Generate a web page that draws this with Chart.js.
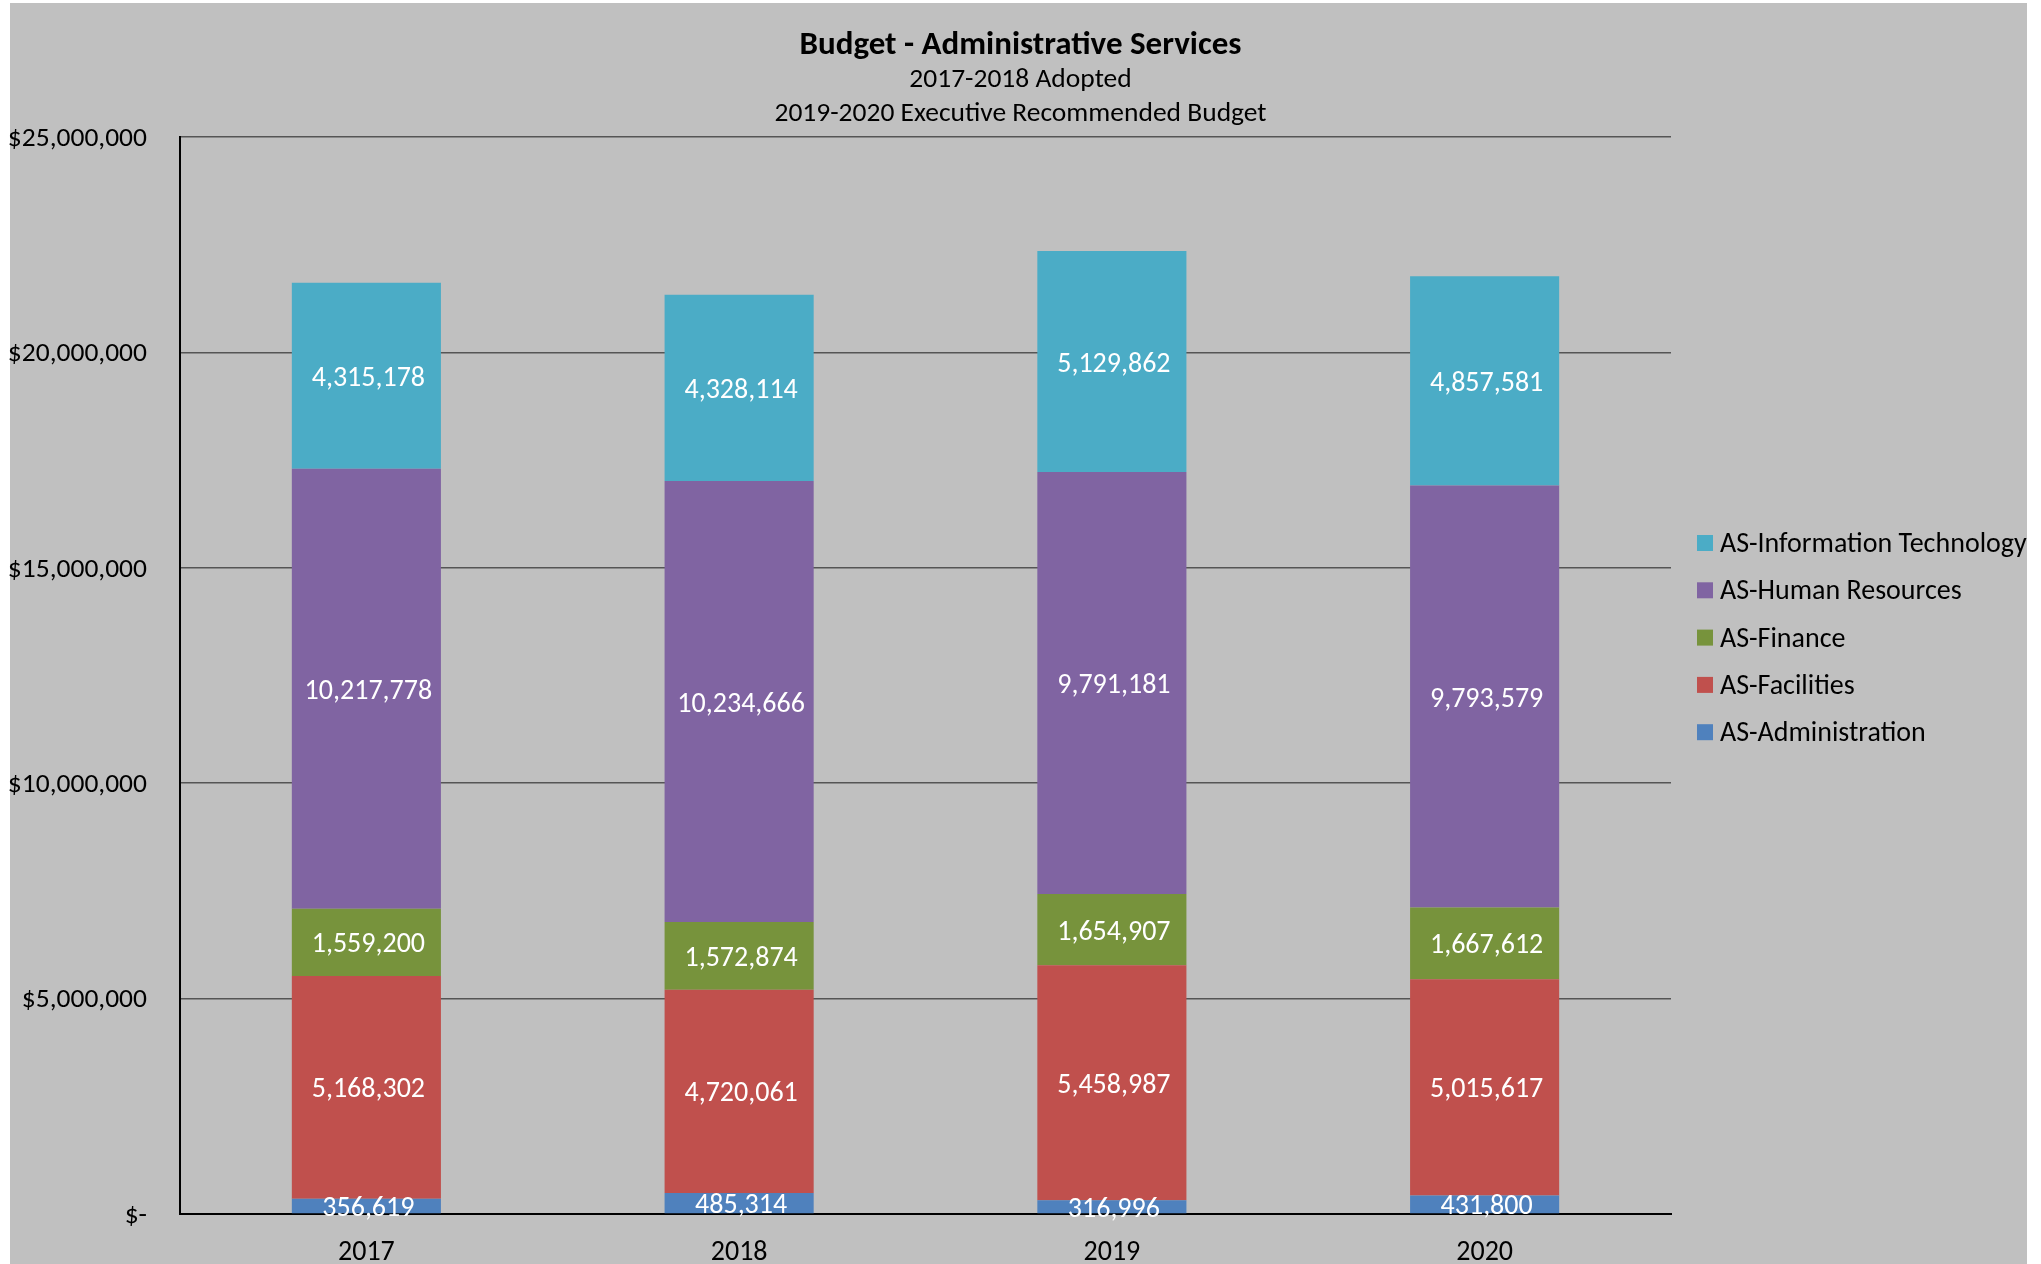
<!DOCTYPE html>
<html>
<head>
<meta charset="utf-8">
<script src="https://cdn.jsdelivr.net/npm/chart.js@4/dist/chart.umd.min.js"></script>
<style>
  html, body { margin: 0; padding: 0; background: #ffffff; }
  canvas { display: block; }
</style>
</head>
<body>
<canvas id="c" width="2041" height="1264"></canvas>
<script>
const categories = ['2017', '2018', '2019', '2020'];
const administration = [356619, 485314, 316996, 431800];
const facilities = [5168302, 4720061, 5458987, 5015617];
const finance = [1559200, 1572874, 1654907, 1667612];
const humanResources = [10217778, 10234666, 9791181, 9793579];
const informationTechnology = [4315178, 4328114, 5129862, 4857581];
const yTickLabels = ['$-', '$5,000,000', '$10,000,000', '$15,000,000', '$20,000,000', '$25,000,000'];
const titleText = 'Budget - Administrative Services';
const subtitleLines = ['2017-2018 Adopted', '2019-2020 Executive Recommended Budget'];

const FONT = 'Carlito, Lato, sans-serif';

const bgPlugin = {
  id: 'bg',
  beforeDraw(chart) {
    const ctx = chart.ctx;
    ctx.save();
    ctx.fillStyle = '#ffffff';
    ctx.fillRect(0, 0, chart.width, chart.height);
    ctx.fillStyle = '#c0c0c0';
    ctx.fillRect(10, 3, 2017, chart.height - 3);
    ctx.restore();
  }
};

const titlePlugin = {
  id: 'titles',
  afterDraw(chart) {
    const ctx = chart.ctx;
    ctx.save();
    ctx.fillStyle = '#000000';
    ctx.textAlign = 'center';
    ctx.textBaseline = 'middle';
    ctx.font = 'bold 33px ' + FONT;
    ctx.fillText(titleText, 1020.5, 46);
    ctx.font = '27.5px ' + FONT;
    ctx.fillText(subtitleLines[0], 1020.5, 80);
    ctx.fillText(subtitleLines[1], 1020.5, 114);
    ctx.restore();
  }
};

const labelPlugin = {
  id: 'segLabels',
  afterDatasetsDraw(chart) {
    const ctx = chart.ctx;
    ctx.save();
    ctx.fillStyle = '#ffffff';
    ctx.textAlign = 'center';
    ctx.textBaseline = 'middle';
    ctx.font = '28px ' + FONT;
    chart.data.datasets.forEach((ds, di) => {
      const meta = chart.getDatasetMeta(di);
      meta.data.forEach((el, i) => {
        const v = ds.data[i];
        const y = (el.y + el.base) / 2;
        ctx.fillText(v.toLocaleString('en-US'), el.x + 2, y + 3);
      });
    });
    ctx.restore();
  }
};

const legendPlugin = {
  id: 'customLegend',
  afterDraw(chart) {
    const ctx = chart.ctx;
    ctx.save();
    ctx.textAlign = 'left';
    ctx.textBaseline = 'middle';
    ctx.font = '28px ' + FONT;
    const dsets = chart.data.datasets.slice().reverse();
    dsets.forEach((ds, k) => {
      const cy = 543 + k * 47.3;
      ctx.fillStyle = ds.backgroundColor;
      ctx.fillRect(1697, cy - 8, 16, 16);
      ctx.fillStyle = '#000000';
      ctx.fillText(ds.label, 1720, cy + 2);
    });
    ctx.restore();
  }
};

new Chart(document.getElementById('c'), {
  type: 'bar',
  data: {
    labels: categories,
    datasets: [
      { label: 'AS-Administration', data: administration, backgroundColor: '#4f81bd' },
      { label: 'AS-Facilities', data: facilities, backgroundColor: '#c0504d' },
      { label: 'AS-Finance', data: finance, backgroundColor: '#77933c' },
      { label: 'AS-Human Resources', data: humanResources, backgroundColor: '#8064a2' },
      { label: 'AS-Information Technology', data: informationTechnology, backgroundColor: '#4bacc6' }
    ]
  },
  options: {
    responsive: false,
    animation: false,
    devicePixelRatio: 1,
    layout: { padding: { top: 137, left: 0, right: 370, bottom: 0 } },
    datasets: { bar: { categoryPercentage: 1.0, barPercentage: 0.4, borderWidth: 0 } },
    plugins: {
      legend: { display: false },
      title: { display: false },
      tooltip: { enabled: false }
    },
    scales: {
      x: {
        stacked: true,
        grid: { display: false, drawTicks: false },
        border: { display: true, color: '#000000', width: 2 },
        ticks: { color: '#000000', font: { family: FONT, size: 28 }, padding: 22 },
        afterFit(scale) { scale.height = 50; }
      },
      y: {
        stacked: true,
        min: 0,
        max: 25000000,
        grid: { color: '#555555', lineWidth: 1.5, drawTicks: false },
        border: { display: true, color: '#000000', width: 2 },
        ticks: {
          stepSize: 5000000,
          color: '#000000',
          font: { family: FONT, size: 27.5 },
          padding: 33,
          labelOffset: 2,
          callback(value, index) { return yTickLabels[index]; }
        },
        afterFit(scale) { scale.width = 180; }
      }
    }
  },
  plugins: [bgPlugin, titlePlugin, labelPlugin, legendPlugin]
});
</script>
</body>
</html>
